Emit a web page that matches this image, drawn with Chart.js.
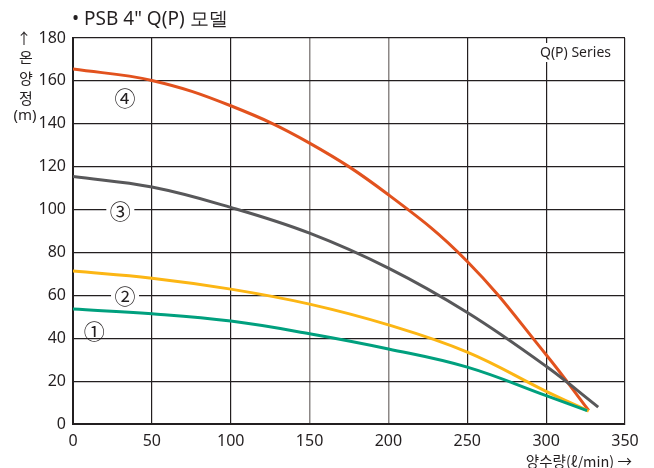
<!DOCTYPE html>
<html>
<head>
<meta charset="utf-8">
<script src="https://cdn.jsdelivr.net/npm/chart.js@4"></script>
<style>
  body { margin: 0; background: #fff; }
  canvas { display: block; }
</style>
</head>
<body>
<canvas id="qp" width="654" height="468"></canvas>
<script>
// flow (l/min) and head (m)
const flow1 = [0, 50, 100, 150, 200, 250, 300, 326];
const head1 = [53.6, 51.4, 48, 42.1, 35, 26.5, 13.2, 6.2];
const flow2 = [0, 50, 100, 150, 200, 250, 300, 327];
const head2 = [71.3, 68, 62.9, 55.9, 46.2, 33.5, 15.2, 6];
const flow3 = [0, 50, 100, 150, 200, 250, 300, 333];
const head3 = [115.4, 110.5, 101, 89, 72.7, 52, 26.9, 7.9];
const flow4 = [0, 50, 100, 150, 200, 250, 300, 327];
const head4 = [165.5, 160.2, 148.4, 131, 106.9, 75.8, 32.3, 6.3];

const curveNames = ['①', '②', '③', '④'];
const curveColors = ['#00a07e', '#fcb614', '#58585a', '#e2521e'];
// where each circled number sits, in data units
const nameX = [13.5, 33, 30, 33];
const nameY = [44, 60, 100, 152.5];
const nameOnLine = [false, true, true, false];

const INK = '#231f20';

function pts(xs, ys) {
  return xs.map((x, i) => ({x: x, y: ys[i]}));
}

const series = [[flow1, head1], [flow2, head2], [flow3, head3], [flow4, head4]];

const labelsPlugin = {
  id: 'labels',
  afterDatasetsDraw(chart) {
    const c = chart.ctx;
    const xs = chart.scales.x, ys = chart.scales.y;
    c.save();
    c.fillStyle = INK;
    c.textBaseline = 'middle';

    // title
    c.font = '19px "Noto Sans", sans-serif';
    c.textAlign = 'left';
    c.fillText('• PSB 4" Q(P) 모델', 72, 20);

    // y title, stacked
    c.font = '15px "Noto Sans CJK KR", sans-serif';
    c.textAlign = 'center';
    c.fillText('↑', 24, 38);
    c.fillText('온', 26, 57);
    c.fillText('양', 26, 78);
    c.fillText('정', 26, 98);
    c.font = '15px "Noto Sans", sans-serif';
    c.fillText('(m)', 25, 116);

    // x title
    c.textAlign = 'right';
    c.font = '14.5px "Noto Sans CJK KR", sans-serif';
    c.fillText('양수량(ℓ/min) →', 632, 461);

    // series tag
    c.font = '14px "Noto Sans", sans-serif';
    c.fillStyle = '#fff';
    c.fillRect(534, 43, 80, 19);
    c.fillStyle = INK;
    c.fillText('Q(P) Series', 611, 53);

    // circled numbers
    c.textAlign = 'center';
    c.font = '21px "Noto Sans CJK KR", sans-serif';
    for (let i = 0; i < curveNames.length; i++) {
      const px = xs.getPixelForValue(nameX[i]);
      const py = ys.getPixelForValue(nameY[i]);
      if (nameOnLine[i]) {
        c.fillStyle = '#fff';
        c.fillRect(px - 14, py - 8, 28, 16);
      }
      c.fillStyle = INK;
      c.fillText(curveNames[i], px, py + 1);
    }
    c.restore();
  }
};

new Chart(document.getElementById('qp'), {
  type: 'line',
  data: {
    datasets: series.map((s, i) => ({
      label: curveNames[i],
      data: pts(s[0], s[1]),
      borderColor: curveColors[i],
      borderWidth: 3,
      pointRadius: 0,
      tension: 0.4,
      fill: false,
    })),
  },
  options: {
    responsive: false,
    animation: false,
    devicePixelRatio: 1,
    layout: {padding: {top: 38, right: 29, left: 0, bottom: 0}},
    plugins: {
      legend: {display: false},
      tooltip: {enabled: false},
    },
    scales: {
      x: {
        type: 'linear',
        min: 0,
        max: 350,
        ticks: {
          stepSize: 50,
          color: INK,
          padding: 8,
          font: {size: 16, family: '"Noto Sans", sans-serif'},
        },
        grid: {
          drawTicks: false,
          color: (ctx) => (ctx.tick && (ctx.tick.value === 150 || ctx.tick.value === 200)) ? '#8c8786' : INK,
          lineWidth: (ctx) => (ctx.tick && (ctx.tick.value === 150 || ctx.tick.value === 200)) ? 1.5 : 1.2,
        },
        border: {color: INK, width: 2},
        afterFit: (scale) => { scale.height = 44; },
      },
      y: {
        min: 0,
        max: 180,
        ticks: {
          stepSize: 20,
          color: INK,
          padding: 7,
          font: {size: 16, family: '"Noto Sans", sans-serif'},
        },
        grid: {drawTicks: false, color: INK, lineWidth: 1.2},
        border: {color: INK, width: 2},
        afterFit: (scale) => { scale.width = 73; },
      },
    },
  },
  plugins: [labelsPlugin],
});
</script>
</body>
</html>
